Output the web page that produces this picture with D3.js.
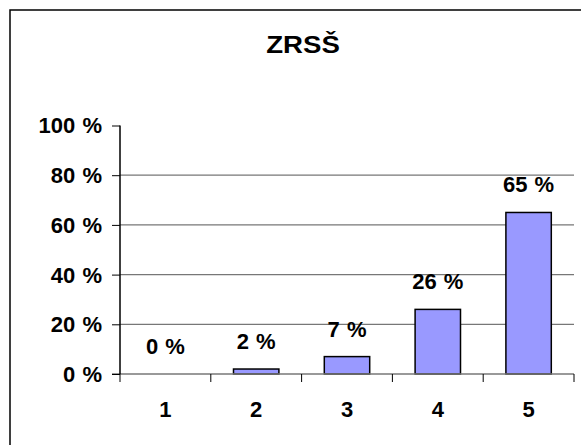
<!DOCTYPE html>
<html><head><meta charset="utf-8">
<script src="https://cdn.jsdelivr.net/npm/d3@7"></script>
<style>
body{margin:0;background:#fff;}
text{font-family:"Liberation Sans",Arial,sans-serif;font-weight:bold;fill:#000;}
</style></head>
<body><svg id="c" width="581" height="445"></svg>
<script>
const title = "ZRSŠ";
const categories = ["1","2","3","4","5"];
const values = [0, 2, 7, 26, 65];
const yTicks = [0, 20, 40, 60, 80, 100];
const gridTicks = [20, 40, 60, 80];

const svg = d3.select("#c");
svg.append("rect").attr("x",10).attr("y",10).attr("width",600).attr("height",460)
  .attr("fill","#fff").attr("stroke","#000").attr("stroke-width",1.5);

const x = d3.scaleBand().domain(categories).range([120,574]).paddingInner(0.5).paddingOuter(0.25);
const y = d3.scaleLinear().domain([0,100]).range([374,125.5]);

// gridlines
svg.append("g").selectAll("line").data(gridTicks).join("line")
  .attr("x1",120).attr("x2",574).attr("y1",d=>y(d)).attr("y2",d=>y(d))
  .attr("stroke","#777").attr("stroke-width",1.2);

// title
svg.append("text").attr("transform","translate(303,53) scale(1.2,1)")
  .attr("text-anchor","middle").style("font-size","23px").text(title);

// bars
svg.append("g").selectAll("rect").data(values).join("rect")
  .attr("x",(d,i)=>x(categories[i])).attr("width",x.bandwidth())
  .attr("y",d=>y(d)).attr("height",d=>y(0)-y(d))
  .attr("fill","#9999FF").attr("stroke","#000").attr("stroke-width",1.5);

// x axis
const xa = svg.append("g").attr("transform","translate(0,374)");
xa.append("line").attr("x1",112).attr("x2",574).attr("stroke","#777").attr("stroke-width",1.5);
const bounds = categories.map(c=>x(c)-x.step()*x.paddingInner()/2).concat([574]);
xa.selectAll("line.t").data(bounds).join("line").attr("class","t")
  .attr("x1",d=>d).attr("x2",d=>d).attr("y1",0).attr("y2",8).attr("stroke","#000").attr("stroke-width",1);
xa.selectAll("text").data(categories).join("text")
  .attr("x",d=>x(d)+x.bandwidth()/2).attr("y",43)
  .attr("text-anchor","middle").style("font-size","22px").text(d=>d);

// y axis
const ya = svg.append("g").attr("transform","translate(120,0)")
  .call(d3.axisLeft(y).tickValues(yTicks).tickSize(8).tickPadding(10).tickFormat(d=>d+" %"));
ya.select(".domain").attr("stroke","#000").attr("stroke-width",1.5).attr("d","M0,"+y(100)+"V"+y(0));
ya.selectAll(".tick line").attr("stroke","#000").attr("stroke-width",1);
ya.selectAll(".tick text").style("font-size","22px").style("font-family","'Liberation Sans',Arial,sans-serif")
  .style("font-weight","bold").attr("fill","#000").style("word-spacing","1px").attr("dy","0.34em");

// data labels
svg.append("g").selectAll("text").data(values).join("text")
  .attr("x",(d,i)=>x(categories[i])+x.bandwidth()/2).attr("y",d=>y(d)-20)
  .attr("text-anchor","middle").style("font-size","22px").style("word-spacing","1px")
  .text(d=>d+" %");
</script></body></html>
